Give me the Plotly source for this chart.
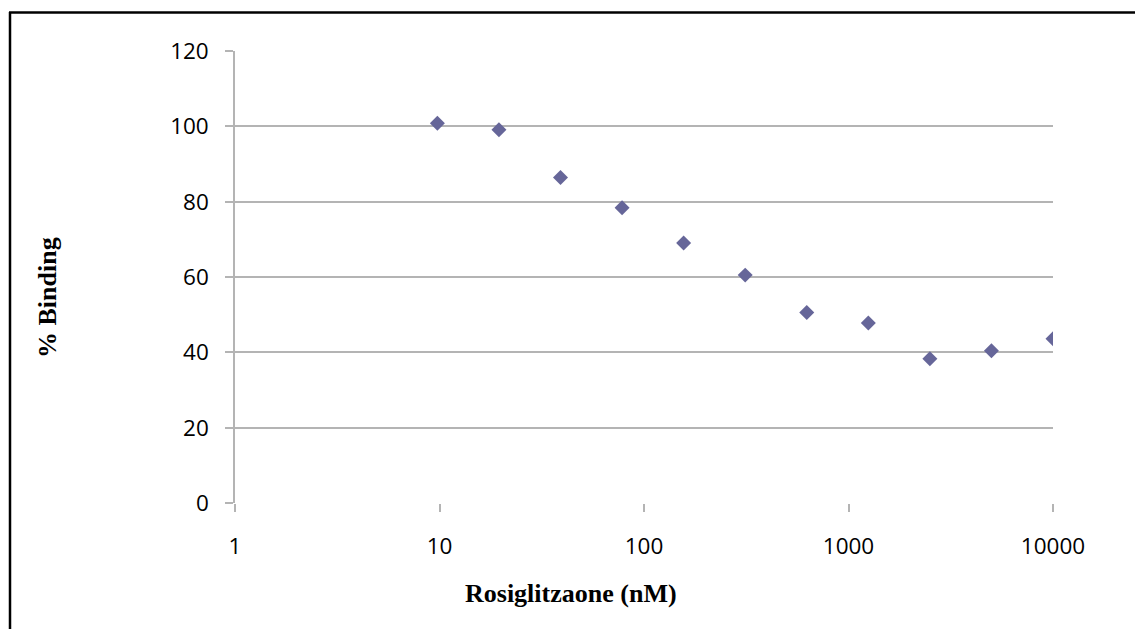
import plotly.graph_objects as go

concentration_nM = [9.765625, 19.53125, 39.0625, 78.125, 156.25, 312.5, 625, 1250, 2500, 5000, 10000]
percent_binding = [100.8, 99.1, 86.4, 78.4, 69.0, 60.5, 50.6, 47.8, 38.3, 40.4, 43.6]

x_ticks = [1, 10, 100, 1000, 10000]
x_ticklabels = ["1", "10", "100", "1000", "10000"]
y_ticks = [0, 20, 40, 60, 80, 100, 120]

OFF = 8  # default page body margin
W, H = 1143, 629
L, T = 235 - OFF, 51 - OFF
pw, ph = 818, 452
R = W - L - pw
B = H - T - ph

def px(x):
    return (x - OFF - L) / pw

def py(y):
    return (T + ph - (y - OFF)) / ph

fig = go.Figure()
fig.add_trace(go.Scatter(
    x=concentration_nM, y=percent_binding, mode="markers",
    marker=dict(symbol="diamond", size=11.5, color="#666699", line=dict(width=0)),
    showlegend=False,
))

tick_font = dict(family="Open Sans", size=22.5, color="black")
grid_col = "#b4b4b4"

fig.update_layout(
    width=W, height=H,
    margin=dict(l=L, r=R, t=T, b=B),
    paper_bgcolor="white", plot_bgcolor="white",
    xaxis=dict(
        type="log", range=[0, 4], tickvals=x_ticks, ticktext=x_ticklabels,
        showgrid=False, zeroline=False, showline=False,
        ticks="outside", ticklen=8, tickwidth=1.5, tickcolor=grid_col,
        tickfont=tick_font, ticklabelstandoff=15,
    ),
    yaxis=dict(
        range=[0, 120], tickvals=y_ticks,
        showgrid=True, gridcolor=grid_col, gridwidth=1.5,
        zeroline=False, showline=True, linecolor=grid_col, linewidth=1.5,
        ticks="outside", ticklen=8, tickwidth=1.5, tickcolor=grid_col,
        tickfont=tick_font, ticklabelstandoff=12,
    ),
    annotations=[
        dict(text="<b>Rosiglitzaone (nM)</b>", x=px(571), y=py(593), xref="paper", yref="paper",
             showarrow=False, xanchor="center", yanchor="middle",
             font=dict(family="Liberation Serif", size=26, color="black")),
        dict(text="<b>% Binding</b>", x=px(47), y=py(298), xref="paper", yref="paper",
             showarrow=False, xanchor="center", yanchor="middle", textangle=-90,
             font=dict(family="Liberation Serif", size=26, color="black")),
    ],
    shapes=[
        dict(type="line", xref="paper", yref="paper", x0=px(10), x1=px(10), y0=py(640), y1=py(12),
             line=dict(color="black", width=2.5)),
        dict(type="line", xref="paper", yref="paper", x0=px(9), x1=px(1150), y0=py(12.5), y1=py(12.5),
             line=dict(color="black", width=2.5)),
    ],
)

fig.write_html("out.html")
